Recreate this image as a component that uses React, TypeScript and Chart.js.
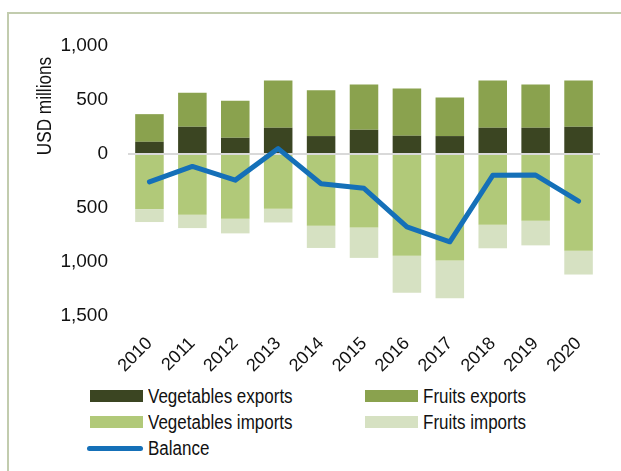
import React, { useEffect, useRef } from "react";
import { Chart, registerables } from "chart.js";

Chart.register(...registerables);

const years = ["2010", "2011", "2012", "2013", "2014", "2015", "2016", "2017", "2018", "2019", "2020"];
const vegetablesExports = [113, 252, 150, 243, 166, 224, 169, 166, 243, 243, 252];
const fruitsExports = [256, 314, 342, 437, 424, 419, 437, 357, 437, 400, 428];
const vegetablesImports = [-510, -563, -600, -507, -664, -680, -941, -987, -655, -618, -895];
const fruitsImports = [-120, -123, -135, -127, -206, -282, -344, -348, -218, -228, -221];
const balance = [-258, -115, -242, 50, -275, -318, -675, -813, -197, -195, -436];

const yTicks = [1000, 500, 0, -500, -1000, -1500];

const FONT = '"Liberation Sans", Arial, sans-serif';
const COLORS = {
  vegExp: "#3b4522",
  fruitExp: "#8aa24e",
  vegImp: "#b1c979",
  fruitImp: "#d6e1c2",
  balance: "#1570b8",
};

const yTitlePlugin = {
  id: "yTitle",
  afterDraw(chart: any) {
    const ctx = chart.ctx;
    const area = chart.chartArea;
    ctx.save();
    ctx.translate(area.left - 83, area.top + 60);
    ctx.rotate(-Math.PI / 2);
    ctx.scale(0.86, 1);
    ctx.font = `20px ${FONT}`;
    ctx.fillStyle = "#111";
    ctx.textAlign = "center";
    ctx.textBaseline = "middle";
    ctx.fillText("USD millions", 0, 0);
    ctx.restore();
  },
};

const legendItems = [
  { label: "Vegetables exports", color: COLORS.vegExp, col: 0, row: 0, line: false },
  { label: "Fruits exports", color: COLORS.fruitExp, col: 1, row: 0, line: false },
  { label: "Vegetables imports", color: COLORS.vegImp, col: 0, row: 1, line: false },
  { label: "Fruits imports", color: COLORS.fruitImp, col: 1, row: 1, line: false },
  { label: "Balance", color: COLORS.balance, col: 0, row: 2, line: true },
];

export default function App() {
  const ref = useRef<HTMLCanvasElement | null>(null);

  useEffect(() => {
    if (!ref.current) return;
    const chart = new Chart(ref.current, {
      type: "bar",
      data: {
        labels: years,
        datasets: [
          {
            type: "line",
            label: "Balance",
            data: balance,
            borderColor: COLORS.balance,
            backgroundColor: COLORS.balance,
            borderWidth: 5,
            pointRadius: 0,
            tension: 0,
            borderCapStyle: "round",
            borderJoinStyle: "round",
            stack: "balance",
            order: 0,
          } as any,
          {
            label: "Vegetables exports",
            data: vegetablesExports,
            backgroundColor: COLORS.vegExp,
            stack: "trade",
            order: 1,
          },
          {
            label: "Fruits exports",
            data: fruitsExports,
            backgroundColor: COLORS.fruitExp,
            stack: "trade",
            order: 1,
          },
          {
            label: "Vegetables imports",
            data: vegetablesImports,
            backgroundColor: COLORS.vegImp,
            stack: "trade",
            order: 1,
          },
          {
            label: "Fruits imports",
            data: fruitsImports,
            backgroundColor: COLORS.fruitImp,
            stack: "trade",
            order: 1,
          },
        ],
      },
      options: {
        responsive: false,
        animation: false,
        devicePixelRatio: 1,
        layout: { padding: { top: 46, left: 0, right: 21, bottom: 0 } },
        datasets: {
          bar: { categoryPercentage: 1, barPercentage: 0.665 },
        },
        plugins: {
          legend: { display: false },
          tooltip: { enabled: false },
        },
        scales: {
          x: {
            stacked: true,
            grid: { display: false, drawTicks: false },
            border: { display: false },
            afterFit: (s: any) => {
              s.height = 64;
            },
            ticks: {
              minRotation: 45,
              maxRotation: 45,
              padding: 17,
              labelOffset: 0,
              color: "#111",
              font: { family: FONT, size: 18 },
            },
          },
          y: {
            stacked: true,
            min: -1500,
            max: 1000,
            afterFit: (s: any) => {
              s.width = 128;
            },
            afterBuildTicks: (s: any) => {
              s.ticks = yTicks.map((v) => ({ value: v }));
            },
            border: { display: false },
            grid: {
              drawTicks: false,
              color: (c: any) => (c.tick && c.tick.value === 0 ? "#d9d9d9" : "rgba(0,0,0,0)"),
              lineWidth: (c: any) => (c.tick && c.tick.value === 0 ? 2 : 0),
            },
            ticks: {
              padding: 20,
              color: "#111",
              font: { family: FONT, size: 19 },
              callback: (v: any) => Math.abs(Number(v)).toLocaleString("en-US"),
            },
          },
        },
      },
      plugins: [yTitlePlugin],
    });
    return () => chart.destroy();
  }, []);

  return (
    <div style={{ position: "absolute", left: 0, top: 0, width: 621, height: 471, overflow: "hidden", background: "#fff" }}>
      <div
        style={{
          position: "absolute",
          left: 7,
          top: 12,
          width: 640,
          height: 600,
          borderLeft: "2px solid #c2ccae",
          borderTop: "2px solid #c2ccae",
        }}
      />
      <canvas ref={ref} width={621} height={380} style={{ position: "absolute", left: 0, top: 0 }} />
      {legendItems.map((it) => (
        <div
          key={it.label}
          style={{
            position: "absolute",
            left: it.col === 0 ? 88 : 363,
            top: 396 + it.row * 26 - 13,
            height: 26,
            display: "flex",
            alignItems: "center",
            fontFamily: FONT,
            fontSize: 20,
            color: "#111",
            whiteSpace: "nowrap",
          }}
        >
          <span
            style={{
              display: "inline-block",
              width: it.line ? 56 : 53,
              height: it.line ? 5 : 12,
              borderRadius: it.line ? 3 : 0,
              background: it.color,
              marginRight: 5,
              marginLeft: it.line ? -1 : 2,
            }}
          />
          <span style={{ display: "inline-block", transform: "scaleX(0.85)", transformOrigin: "left center" }}>
            {it.label}
          </span>
        </div>
      ))}
    </div>
  );
}
